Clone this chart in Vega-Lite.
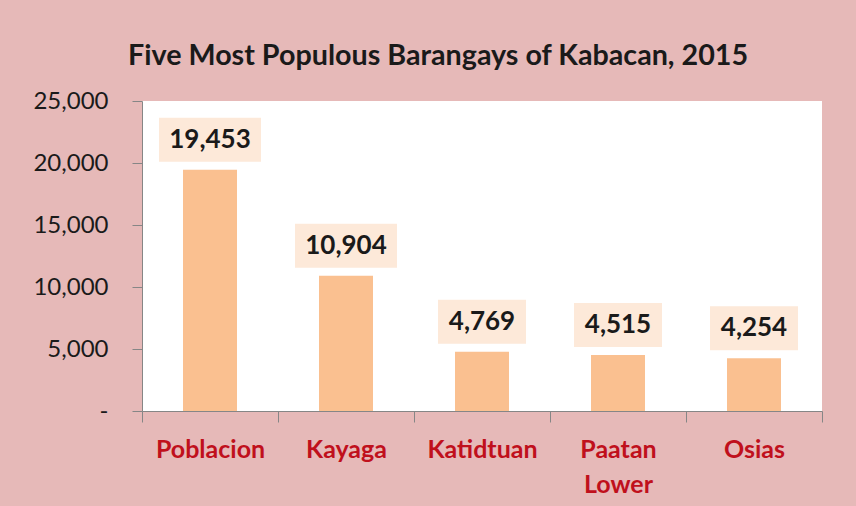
{
  "$schema": "https://vega.github.io/schema/vega-lite/v6.json",
  "autosize": {"type": "none"},
  "width": 680,
  "height": 310,
  "padding": {"left": 142, "top": 101, "right": 34, "bottom": 95},
  "background": "#e6b9b8",
  "title": {
    "text": "Five Most Populous Barangays of Kabacan, 2015",
    "font": "Lato",
    "fontSize": 28.7,
    "fontWeight": "bold",
    "color": "#1a1a1a",
    "anchor": "start",
    "frame": "group",
    "dx": -14,
    "dy": 39,
    "baseline": "alphabetic",
    "offset": 34
  },
  "data": {
    "values": [
      {"barangay": "Poblacion", "population": 19453},
      {"barangay": "Kayaga", "population": 10904},
      {"barangay": "Katidtuan", "population": 4769},
      {"barangay": "Paatan Lower", "population": 4515},
      {"barangay": "Osias", "population": 4254}
    ]
  },
  "encoding": {
    "x": {
      "field": "barangay",
      "type": "nominal",
      "sort": null,
      "scale": {"paddingInner": 0, "paddingOuter": 0},
      "axis": {
        "title": null,
        "labelAngle": 0,
        "tickBand": "extent",
        "domainColor": "#868686",
        "tickColor": "#868686",
        "tickSize": 11,
        "labelFont": "Lato",
        "labelFontSize": 25,
        "labelFontWeight": "bold",
        "labelColor": "#c0101c",
        "labelPadding": 15,
        "labelLineHeight": 35,
        "labelBaseline": "top",
        "labelExpr": "datum.value == 'Paatan Lower' ? ['Paatan', 'Lower'] : datum.value"
      }
    },
    "y": {
      "field": "population",
      "type": "quantitative",
      "scale": {"domain": [0, 25000], "nice": false},
      "axis": {
        "title": null,
        "values": [0, 5000, 10000, 15000, 20000, 25000],
        "labelExpr": "datum.value == 0 ? '-\u2007' : format(datum.value, ',')",
        "grid": false,
        "domainColor": "#868686",
        "tickColor": "#868686",
        "tickSize": 10,
        "labelPadding": 24,
        "labelFont": "Lato",
        "labelFontSize": 24,
        "labelColor": "#1a1a1a"
      }
    }
  },
  "layer": [
    {
      "mark": {"type": "bar", "width": 54, "color": "#fac090"}
    },
    {
      "transform": [{"filter": "datum.population >= 10000"}],
      "mark": {"type": "bar", "width": 102, "color": "#fde9d9", "yOffset": -52, "y2Offset": -8},
      "encoding": {"y2": {"field": "population"}}
    },
    {
      "transform": [{"filter": "datum.population < 10000"}],
      "mark": {"type": "bar", "width": 88, "color": "#fde9d9", "yOffset": -52, "y2Offset": -8},
      "encoding": {"y2": {"field": "population"}}
    },
    {
      "mark": {"type": "text", "dy": -30, "baseline": "middle", "font": "Lato", "fontSize": 26, "fontWeight": "bold", "color": "#1a1a1a"},
      "encoding": {"text": {"field": "population", "type": "quantitative", "format": ","}}
    }
  ],
  "config": {
    "view": {"fill": "white", "stroke": null}
  }
}
